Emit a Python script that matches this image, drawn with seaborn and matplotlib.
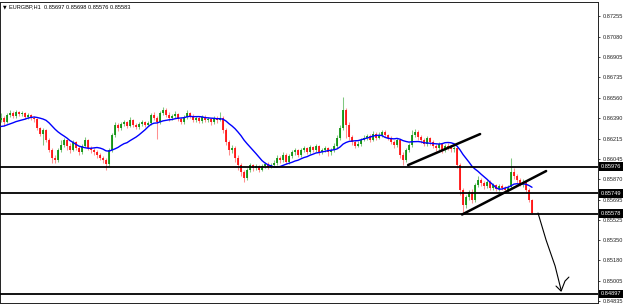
import numpy as np
import pandas as pd
import matplotlib
matplotlib.use("Agg")
import matplotlib.pyplot as plt
import matplotlib.transforms as mtransforms
import seaborn as sns

# ---------------- data ----------------
symbol = "EURGBP,H1"
first_open = 0.86372
prior_closes = [0.86304, 0.86287, 0.86313, 0.86270, 0.86296, 0.86321, 0.86338,
                0.86304, 0.86287, 0.86313, 0.86330, 0.86355, 0.86338]

closes = [
    0.86389, 0.86355, 0.86415, 0.86432, 0.86406, 0.86440, 0.86423, 0.86432, 0.86398, 0.86415,
    0.86389, 0.86381, 0.86304, 0.86253, 0.86287, 0.86202, 0.86117, 0.86050, 0.86033, 0.86117,
    0.86160, 0.86202, 0.86151, 0.86117, 0.86185, 0.86134, 0.86100, 0.86151, 0.86202, 0.86134,
    0.86117, 0.86100, 0.86075, 0.86050, 0.86033, 0.85999, 0.86117, 0.86245, 0.86330, 0.86304,
    0.86338, 0.86355, 0.86321, 0.86372, 0.86330, 0.86313, 0.86338, 0.86355, 0.86330, 0.86347,
    0.86415, 0.86389, 0.86355, 0.86432, 0.86457, 0.86415, 0.86389, 0.86406, 0.86423, 0.86381,
    0.86355, 0.86398, 0.86432, 0.86406, 0.86372, 0.86389, 0.86364, 0.86398, 0.86372, 0.86381,
    0.86355, 0.86389, 0.86372, 0.86389, 0.86287, 0.86185, 0.86117, 0.86134, 0.86050, 0.85990,
    0.85931, 0.85880, 0.85948, 0.85990, 0.85965, 0.85982, 0.85948, 0.85982, 0.85999, 0.85973,
    0.85990, 0.86007, 0.86050, 0.86033, 0.86075, 0.86016, 0.86067, 0.86100, 0.86117, 0.86075,
    0.86117, 0.86134, 0.86100, 0.86143, 0.86117, 0.86151, 0.86100, 0.86117, 0.86134, 0.86100,
    0.86117, 0.86151, 0.86219, 0.86304, 0.86457, 0.86330, 0.86228, 0.86185, 0.86151, 0.86168,
    0.86202, 0.86219, 0.86236, 0.86202, 0.86253, 0.86219, 0.86245, 0.86270, 0.86245, 0.86219,
    0.86185, 0.86160, 0.86202, 0.86075, 0.86033, 0.86117, 0.86160, 0.86245, 0.86270, 0.86228,
    0.86202, 0.86168, 0.86219, 0.86185, 0.86151, 0.86134, 0.86168, 0.86117, 0.86151, 0.86143,
    0.86126, 0.86134, 0.85990, 0.85778, 0.85651, 0.85718, 0.85761, 0.85693, 0.85820, 0.85863,
    0.85837, 0.85812, 0.85846, 0.85795, 0.85820, 0.85786, 0.85812, 0.85795, 0.85778, 0.85803,
    0.85931, 0.85897, 0.85863, 0.85829, 0.85846, 0.85778, 0.85697, 0.85583]

highs = [
    0.86432, 0.86406, 0.86432, 0.86457, 0.86449, 0.86457, 0.86449, 0.86449, 0.86440, 0.86432,
    0.86423, 0.86406, 0.86389, 0.86313, 0.86304, 0.86296, 0.86219, 0.86134, 0.86075, 0.86134,
    0.86202, 0.86219, 0.86211, 0.86177, 0.86202, 0.86194, 0.86151, 0.86168, 0.86228, 0.86211,
    0.86151, 0.86134, 0.86117, 0.86092, 0.86067, 0.86050, 0.86134, 0.86262, 0.86355, 0.86347,
    0.86355, 0.86372, 0.86364, 0.86398, 0.86381, 0.86347, 0.86355, 0.86372, 0.86364, 0.86364,
    0.86432, 0.86440, 0.86406, 0.86449, 0.86483, 0.86474, 0.86440, 0.86423, 0.86449, 0.86432,
    0.86398, 0.86415, 0.86457, 0.86440, 0.86423, 0.86406, 0.86406, 0.86415, 0.86415, 0.86398,
    0.86389, 0.86406, 0.86406, 0.86440, 0.86406, 0.86304, 0.86202, 0.86160, 0.86151, 0.86075,
    0.86007, 0.85948, 0.85965, 0.86007, 0.85999, 0.85999, 0.85990, 0.85999, 0.86016, 0.86016,
    0.86007, 0.86033, 0.86075, 0.86067, 0.86100, 0.86092, 0.86083, 0.86117, 0.86134, 0.86126,
    0.86134, 0.86151, 0.86143, 0.86160, 0.86151, 0.86168, 0.86160, 0.86134, 0.86151, 0.86143,
    0.86134, 0.86177, 0.86245, 0.86330, 0.86567, 0.86474, 0.86355, 0.86245, 0.86202, 0.86194,
    0.86219, 0.86245, 0.86253, 0.86253, 0.86279, 0.86270, 0.86270, 0.86287, 0.86287, 0.86253,
    0.86236, 0.86202, 0.86219, 0.86211, 0.86100, 0.86134, 0.86177, 0.86287, 0.86296, 0.86287,
    0.86245, 0.86219, 0.86236, 0.86228, 0.86202, 0.86168, 0.86185, 0.86177, 0.86168, 0.86177,
    0.86160, 0.86151, 0.86143, 0.86007, 0.85795, 0.85735, 0.85778, 0.85786, 0.85837, 0.85897,
    0.85880, 0.85854, 0.85863, 0.85863, 0.85837, 0.85829, 0.85829, 0.85829, 0.85812, 0.85820,
    0.86050, 0.85965, 0.85914, 0.85880, 0.85871, 0.85863, 0.85795, 0.85698]

lows = [
    0.86355, 0.86321, 0.86347, 0.86398, 0.86389, 0.86389, 0.86406, 0.86406, 0.86381, 0.86381,
    0.86372, 0.86355, 0.86287, 0.86236, 0.86160, 0.86185, 0.86100, 0.86007, 0.86007, 0.86016,
    0.86100, 0.86143, 0.86117, 0.86092, 0.86109, 0.86117, 0.86075, 0.86083, 0.86143, 0.86117,
    0.86092, 0.86075, 0.86050, 0.86033, 0.86007, 0.85948, 0.85982, 0.86100, 0.86228, 0.86279,
    0.86287, 0.86321, 0.86304, 0.86313, 0.86313, 0.86296, 0.86296, 0.86321, 0.86313, 0.86321,
    0.86330, 0.86372, 0.86211, 0.86338, 0.86415, 0.86398, 0.86364, 0.86372, 0.86389, 0.86364,
    0.86338, 0.86338, 0.86381, 0.86389, 0.86355, 0.86355, 0.86347, 0.86347, 0.86355, 0.86355,
    0.86330, 0.86338, 0.86347, 0.86364, 0.86262, 0.86160, 0.86075, 0.86092, 0.86016, 0.85948,
    0.85897, 0.85846, 0.85863, 0.85931, 0.85939, 0.85948, 0.85931, 0.85939, 0.85965, 0.85956,
    0.85965, 0.85973, 0.85990, 0.86007, 0.86016, 0.85999, 0.85999, 0.86050, 0.86075, 0.86058,
    0.86058, 0.86100, 0.86083, 0.86083, 0.86100, 0.86100, 0.86075, 0.86083, 0.86100, 0.86067,
    0.86075, 0.86100, 0.86134, 0.86202, 0.86287, 0.86219, 0.86202, 0.86160, 0.86134, 0.86143,
    0.86151, 0.86194, 0.86202, 0.86185, 0.86194, 0.86202, 0.86211, 0.86228, 0.86228, 0.86202,
    0.86168, 0.86134, 0.86143, 0.86050, 0.85990, 0.86016, 0.86100, 0.86143, 0.86228, 0.86202,
    0.86177, 0.86151, 0.86151, 0.86160, 0.86134, 0.86109, 0.86117, 0.86092, 0.86100, 0.86117,
    0.86100, 0.86100, 0.85965, 0.85735, 0.85583, 0.85625, 0.85693, 0.85667, 0.85676, 0.85803,
    0.85812, 0.85786, 0.85795, 0.85778, 0.85778, 0.85769, 0.85769, 0.85778, 0.85761, 0.85761,
    0.85786, 0.85871, 0.85837, 0.85812, 0.85803, 0.85752, 0.85676, 0.85576]

ma_period = 14
levels = [0.85976, 0.85749, 0.85578, 0.84897]
tick_values = [0.87255, 0.87080, 0.86905, 0.86735, 0.86560, 0.86390, 0.86215, 0.86045,
               0.85870, 0.85695, 0.85525, 0.85350, 0.85180, 0.85005, 0.84835]
trend1_x = [135.7, 159.7]
trend1_y = [0.85990, 0.86253]
trend2_x = [153.7, 181.7]
trend2_y = [0.85570, 0.85939]
arrow_x = [179.0, 181.7, 184.7, 186.7]
arrow_y = [0.85583, 0.85353, 0.85133, 0.84929]
check_x = [185.0, 186.7, 188.0, 189.3]
check_y = [0.84963, 0.84920, 0.85005, 0.85039]

# ---------------- figure ----------------
sns.set_theme(style="white")
plt.rcParams['font.family'] = ['Liberation Sans', 'DejaVu Sans']

W, H = 625, 304
fig = plt.figure(figsize=(W / 100, H / 100), dpi=100)
fig.patch.set_facecolor("white")
ax = fig.add_axes([0, 1 / H, 598 / W, 301 / H])
ax.set_facecolor("white")

n = len(closes)
idx = np.arange(n)
c = np.array(closes)
o = np.array([first_open] + closes[:-1])
hi = np.maximum(np.array(highs), np.maximum(o, c))
lo = np.minimum(np.array(lows), np.minimum(o, c))
up = c >= o

wick_col = np.where(up, "#80c880", "#ff9090")
body_col = np.where(up, "#008c00", "#ff0000")
ax.vlines(idx, lo, hi, colors=wick_col, linewidth=0.75, zorder=2)
b_lo = np.minimum(o, c)
b_hi = np.maximum(np.maximum(o, c), b_lo + 0.00003)
ax.vlines(idx, b_lo, b_hi, colors=body_col, linewidth=1.2, zorder=3)

ma = pd.Series(prior_closes + closes).rolling(ma_period).mean().to_numpy()[len(prior_closes):]
df_ma = pd.DataFrame({"bar": idx, "ma": ma})
sns.lineplot(data=df_ma, x="bar", y="ma", color="#0000ff", linewidth=1.0, ax=ax,
             legend=False, zorder=4)

for lv in levels:
    ax.axhline(lv, color="black", linewidth=1.3, zorder=5)

ax.plot(trend1_x, trend1_y, color="black", linewidth=1.8, solid_capstyle="round", zorder=6)
ax.plot(trend2_x, trend2_y, color="black", linewidth=1.8, solid_capstyle="round", zorder=6)
ax.plot(arrow_x, arrow_y, color="black", linewidth=0.8, zorder=6)
ax.plot(check_x, check_y, color="black", linewidth=0.8, zorder=6)

ax.set_xlim(-1 / 3, 199)
ax.set_ylim(0.84819, 0.87374)
ax.set_xlabel("")
ax.set_ylabel("")
ax.set_xticks([])
ax.yaxis.tick_right()
ax.set_yticks(tick_values)
ax.set_yticklabels([f"{v:.5f}" for v in tick_values])
ax.tick_params(axis="y", right=True, left=False, length=1.5, width=0.6, pad=2.0,
               labelsize=4.1, colors="#222222", direction="out")
for s in ax.spines.values():
    s.set_visible(True)
    s.set_color("#222222")
    s.set_linewidth(0.7)

trans = mtransforms.blended_transform_factory(ax.transAxes, ax.transData)
for lv in levels:
    ax.text(1.0045, lv, f"{lv:.5f}", transform=trans, ha="left", va="center",
            fontsize=4.1, color="white", clip_on=False, zorder=10,
            bbox=dict(boxstyle="square,pad=0.3", fc="black", ec="none"))

fig.text(3 / W, 1 - 7 / H, "\u25BC", fontsize=3.4, color="black", va="center", ha="left",
         family=["DejaVu Sans"])
fig.text(9 / W, 1 - 7 / H,
         f"{symbol}  {o[-1]:.5f} {hi[-1]:.5f} {lo[-1]:.5f} {c[-1]:.5f}",
         fontsize=4.1, color="black", va="center", ha="left")

fig.savefig("out.png", dpi=100, facecolor="white")
